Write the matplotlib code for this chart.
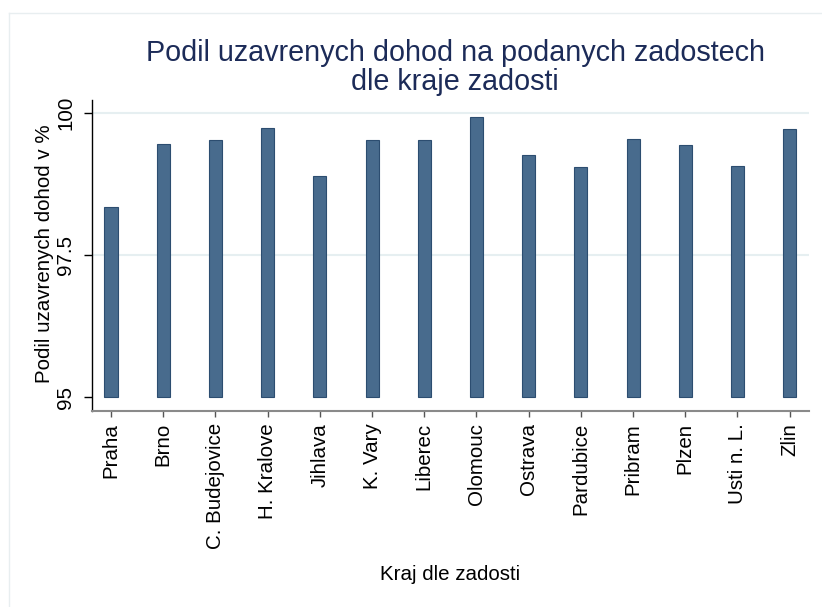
import matplotlib
matplotlib.use("Agg")
import matplotlib.pyplot as plt
from matplotlib.lines import Line2D

plt.rcParams['font.family'] = ['Liberation Sans', 'DejaVu Sans']

kraje = ["Praha", "Brno", "C. Budejovice", "H. Kralove", "Jihlava", "K. Vary",
         "Liberec", "Olomouc", "Ostrava", "Pardubice", "Pribram", "Plzen",
         "Usti n. L.", "Zlin"]
podil = [98.34, 99.44, 99.52, 99.72, 98.88, 99.51, 99.52,
         99.92, 99.25, 99.05, 99.53, 99.43, 99.06, 99.71]
yticks = [95, 97.5, 100]
ytick_labels = ["95", "97.5", "100"]
base = 95

W, H = 822, 607
fig = plt.figure(figsize=(W / 100, H / 100), dpi=100)
fig.patch.set_facecolor("white")

# faint outer frame (left + top edges only visible)
fig.add_artist(Line2D([9 / W, 9 / W], [0, 1 - 13 / H], transform=fig.transFigure,
                      color="#e8eef0", lw=1))
fig.add_artist(Line2D([9 / W, 1], [1 - 13 / H, 1 - 13 / H], transform=fig.transFigure,
                      color="#e8eef0", lw=1))

ax = fig.add_axes([91.7 / W, 1 - 411 / H, (809 - 91.7) / W, (411 - 100) / H])

x = list(range(len(kraje)))
heights = [v - base for v in podil]
ax.bar(x, heights, bottom=base, width=0.25, color="#486b8d",
       edgecolor="#2c4d70", linewidth=0.8, zorder=3)

for g in [97.5, 100]:
    ax.axhline(g, color="#e6eff1", lw=1.5, zorder=1)

ax.set_xlim(-0.37, len(kraje) - 1 + 0.37)
ax.set_ylim(94.76, 100.22)

ax.set_yticks(yticks)
ax.set_yticklabels(ytick_labels)
for lab in ax.get_yticklabels():
    lab.set_rotation(90)
    lab.set_va("center")
    lab.set_ha("right")
ax.tick_params(axis="y", length=6, width=1, pad=6, labelsize=14.8, color="black")

ax.set_xticks(x)
ax.set_xticklabels(kraje, rotation=90, va="top", ha="center")
ax.tick_params(axis="x", length=4.3, width=1, pad=4.3, labelsize=14.8, color="#555555")

for s in ["top", "right"]:
    ax.spines[s].set_visible(False)
ax.spines["left"].set_color("black")
ax.spines["left"].set_linewidth(1)
ax.spines["bottom"].set_color("#8a8a8a")
ax.spines["bottom"].set_linewidth(1.5)

fig.text(455 / W, 1 - 61 / H, "Podil uzavrenych dohod na podanych zadostech",
         ha="center", va="baseline", fontsize=20.7, color="#1c2b58")
fig.text(455 / W, 1 - 90 / H, "dle kraje zadosti",
         ha="center", va="baseline", fontsize=20.7, color="#1c2b58")

fig.text(450 / W, 1 - 580 / H, "Kraj dle zadosti", ha="center", va="baseline",
         fontsize=14.8)
fig.text(45 / W, 1 - 254 / H, "Podil uzavrenych dohod v %", rotation=90,
         ha="center", va="center", fontsize=14.8)

fig.savefig("out.png", dpi=100)
